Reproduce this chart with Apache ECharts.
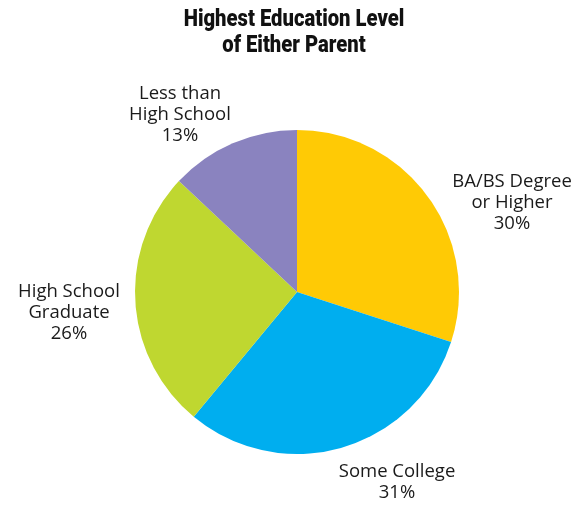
<!DOCTYPE html>
<html>
<head>
<meta charset="utf-8">
<script src="https://cdn.jsdelivr.net/npm/echarts@6/dist/echarts.min.js"></script>
<style>
  html, body { margin: 0; padding: 0; background: #fff; }
  #chart { width: 579px; height: 508px; }
</style>
</head>
<body>
<div id="chart"></div>
<script>
// Highest education level of either parent (percent of respondents)
const titleLines = ['Highest Education Level', 'of Either Parent'];
const categories = ['BA/BS Degree\nor Higher', 'Some College', 'High School\nGraduate', 'Less than\nHigh School'];
const shares = [30, 31, 26, 13];
const colors = ['#FFCA05', '#00AEEF', '#BFD730', '#8A83BF'];

// Where each slice label sits (label centre, px)
const labelSpots = [[512, 203], [397, 482], [69, 313], [180, 115]];

const chart = echarts.init(document.getElementById('chart'));
chart.setOption({
  animation: false,
  // Condensed bold heading: a bold face squeezed horizontally
  graphic: [{
    type: 'text',
    x: 294,
    y: 7,
    scaleX: 0.88,
    style: {
      text: titleLines.join('\n'),
      align: 'center',
      verticalAlign: 'top',
      font: '900 23px Roboto, "Open Sans", sans-serif',
      lineHeight: 26,
      fill: '#111'
    }
  }],
  series: [{
    type: 'pie',
    center: [297, 292],
    radius: 162,
    startAngle: 90,
    clockwise: true,
    silent: true,
    itemStyle: { borderWidth: 0 },
    label: {
      show: true,
      position: 'outside',
      formatter: p => p.name + '\n' + p.value + '%',
      fontFamily: '"Open Sans", "Noto Sans", sans-serif',
      fontSize: 18.5,
      lineHeight: 21,
      color: '#1a1a1a',
      align: 'center',
      overflow: 'none'
    },
    labelLine: { show: false },
    labelLayout: params => {
      const spot = labelSpots[params.dataIndex];
      return { x: spot[0], y: spot[1], align: 'center', verticalAlign: 'middle', hideOverlap: false, moveOverlap: false };
    },
    data: categories.map((c, i) => ({ name: c, value: shares[i], itemStyle: { color: colors[i] } }))
  }]
});
</script>
</body>
</html>
